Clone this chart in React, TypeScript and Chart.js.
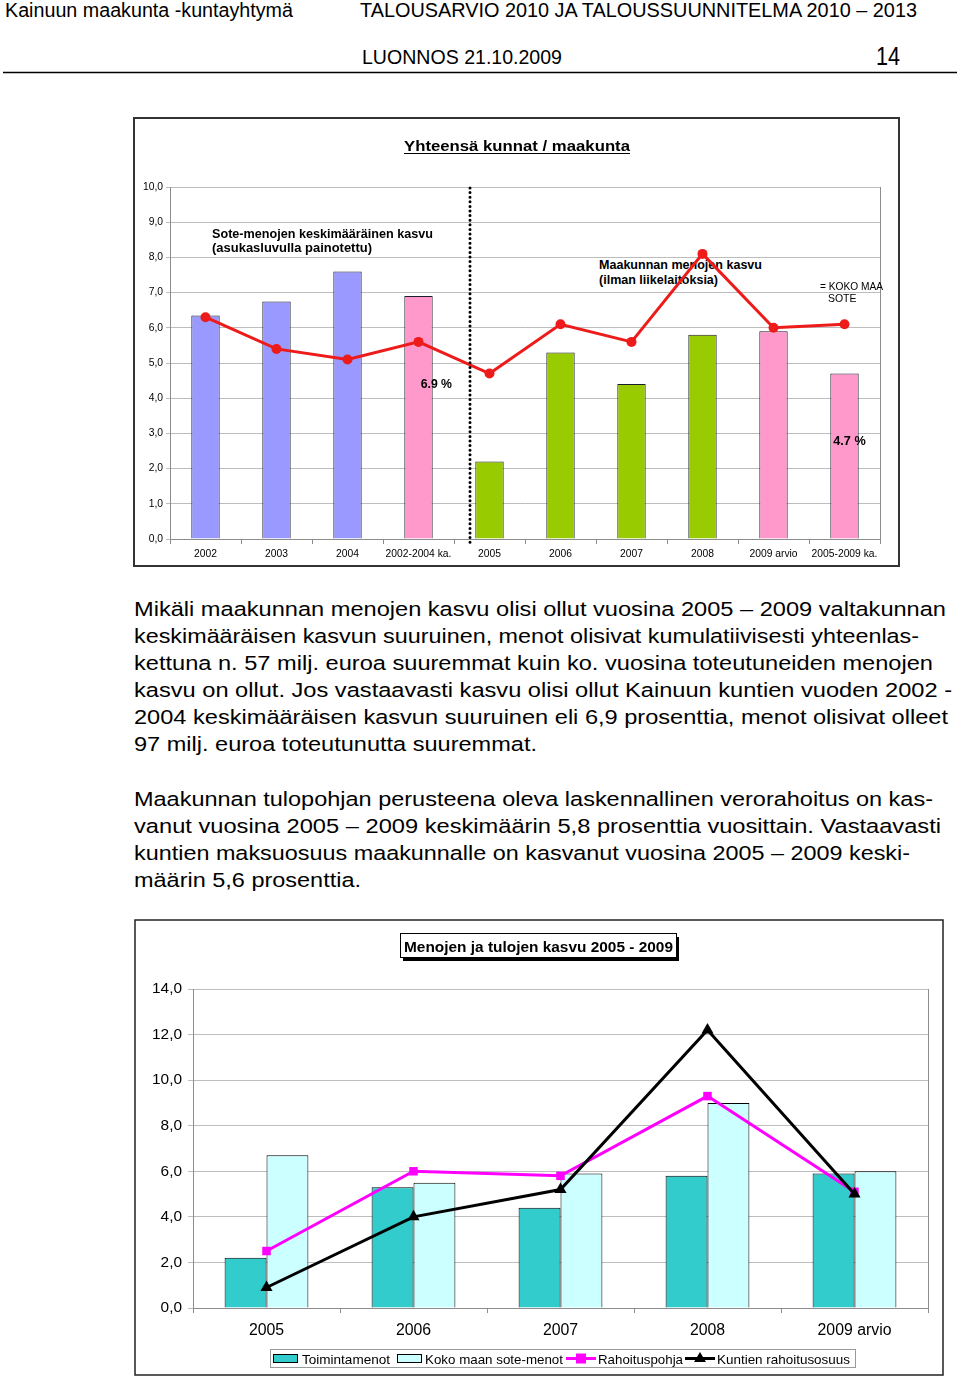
import React, { useEffect, useRef } from 'react';
import { Chart, registerables } from 'chart.js';

Chart.register(...registerables);

const SANS = "'Liberation Sans', Arial, Helvetica, sans-serif";
const NARROW = "'Liberation Sans Narrow', 'Arial Narrow', 'Liberation Sans', Arial, sans-serif";

// ---------- Chart 1: Yhteensä kunnat / maakunta ----------
const categories1 = ['2002', '2003', '2004', '2002-2004 ka.', '2005', '2006', '2007', '2008', '2009 arvio', '2005-2009 ka.'];
const soteGrowth = [6.35, 6.75, 7.6, 6.9, 2.2, 5.3, 4.4, 5.8, 5.9, 4.7];
const regionGrowth = [6.3, 5.4, 5.1, 5.6, 4.7, 6.1, 5.6, 8.1, 6.0, 6.1];
const barColors1 = ['#9999FF', '#9999FF', '#9999FF', '#FF99CC', '#99CC00', '#99CC00', '#99CC00', '#99CC00', '#FF99CC', '#FF99CC'];
const yMin1 = 0;
const yMax1 = 10;
const yStep1 = 1;

// ---------- Chart 2: Menojen ja tulojen kasvu 2005 - 2009 ----------
const categories2 = ['2005', '2006', '2007', '2008', '2009 arvio'];
const toimintamenot = [2.2, 5.3, 4.4, 5.8, 5.9];
const kokoMaanSote = [6.7, 5.5, 5.9, 9.0, 6.0];
const rahoituspohja = [2.5, 6.0, 5.8, 9.3, 5.1];
const kuntienOsuus = [0.9, 4.0, 5.2, 12.2, 5.0];
const seriesNames2 = ['Toimintamenot', 'Koko maan sote-menot', 'Rahoituspohja', 'Kuntien rahoitusosuus'];
const yMin2 = 0;
const yMax2 = 14;
const yStep2 = 2;

// ---------- Page texts ----------
const headerLeft = 'Kainuun maakunta -kuntayhtymä';
const headerRight = 'TALOUSARVIO 2010 JA TALOUSSUUNNITELMA 2010 – 2013';
const headerDraft = 'LUONNOS 21.10.2009';
const pageNumber = '14';
const title1 = 'Yhteensä kunnat / maakunta';
const title2 = 'Menojen ja tulojen kasvu 2005 - 2009';

const paragraph1 = [
  { t: 'Mikäli maakunnan menojen kasvu olisi ollut vuosina 2005 – 2009 valtakunnan', end: 946 },
  { t: 'keskimääräisen kasvun suuruinen, menot olisivat kumulatiivisesti yhteenlas-', end: 919 },
  { t: 'kettuna n. 57 milj. euroa suuremmat kuin ko. vuosina toteutuneiden menojen', end: 933 },
  { t: 'kasvu on ollut. Jos vastaavasti kasvu olisi ollut Kainuun kuntien vuoden 2002 -', end: 952 },
  { t: '2004 keskimääräisen kasvun suuruinen eli 6,9 prosenttia, menot olisivat olleet', end: 948 },
  { t: '97 milj. euroa toteutunutta suuremmat.', end: 537 },
];
const paragraph2 = [
  { t: 'Maakunnan tulopohjan perusteena oleva laskennallinen verorahoitus on kas-', end: 933 },
  { t: 'vanut vuosina 2005 – 2009 keskimäärin 5,8 prosenttia vuosittain. Vastaavasti', end: 941 },
  { t: 'kuntien maksuosuus maakunnalle on kasvanut vuosina 2005 – 2009 keski-', end: 910 },
  { t: 'määrin 5,6 prosenttia.', end: 361 },
];

const fmt = (v: number | string) => Number(v).toFixed(1).replace('.', ',');

function fitSize(text: string, target: number, family: string, weight = 'normal', cap = 100) {
  const ctx = document.createElement('canvas').getContext('2d');
  if (!ctx) return 12;
  ctx.font = `${weight} 100px ${family}`;
  const w = ctx.measureText(text).width;
  return Math.min(cap, (100 * target) / w);
}

function rightFramePlugin(id: string) {
  return {
    id,
    beforeDatasetsDraw(chart: any) {
      const { ctx, chartArea: a } = chart;
      ctx.save();
      ctx.strokeStyle = '#8C8C8C';
      ctx.lineWidth = 1;
      const x = Math.round(a.right) + 0.5;
      ctx.beginPath();
      ctx.moveTo(x, a.top);
      ctx.lineTo(x, a.bottom);
      ctx.stroke();
      ctx.restore();
    },
  };
}

function GrowthChart() {
  const ref = useRef<HTMLCanvasElement>(null);
  useEffect(() => {
    if (!ref.current) return;
    const tickFont = { family: SANS, size: 10.3 };
    const dividerPlugin = {
      id: 'divider1',
      afterDatasetsDraw(chart: any) {
        const { ctx, chartArea: a, scales } = chart;
        const xs = scales.x;
        const p3 = xs.getPixelForValue(3);
        const p4 = xs.getPixelForValue(4);
        const x = Math.round(p3 + (p4 - p3) * 0.73);
        ctx.save();
        ctx.strokeStyle = '#000';
        ctx.lineWidth = 3;
        ctx.lineCap = 'round';
        ctx.setLineDash([0, 4.6]);
        ctx.beginPath();
        ctx.moveTo(x, a.top + 1);
        ctx.lineTo(x, a.bottom + 5);
        ctx.stroke();
        ctx.restore();
      },
    };
    const chart = new Chart(ref.current, {
      type: 'bar',
      data: {
        labels: categories1,
        datasets: [
          {
            type: 'line',
            data: regionGrowth,
            borderColor: '#EE1B1B',
            backgroundColor: '#EE1B1B',
            borderWidth: 3,
            pointRadius: 5,
            pointBorderWidth: 0,
            pointBackgroundColor: '#EE1B1B',
            tension: 0,
            order: 0,
          } as any,
          {
            type: 'bar',
            data: soteGrowth,
            backgroundColor: barColors1,
            borderColor: '#1C1C2C',
            borderWidth: 1,
            barPercentage: 0.4,
            categoryPercentage: 1,
            order: 1,
          },
        ],
      },
      options: {
        responsive: false,
        animation: false,
        layout: { padding: { top: 69, right: 19, left: 0, bottom: 0 } },
        plugins: { legend: { display: false }, tooltip: { enabled: false }, title: { display: false } },
        scales: {
          x: {
            offset: true,
            grid: { offset: true, drawOnChartArea: false, drawTicks: true, tickLength: 5, color: '#8C8C8C' },
            border: { color: '#8C8C8C' },
            ticks: { font: tickFont, color: '#000', padding: 4, maxRotation: 0, autoSkip: false },
            afterFit: (s: any) => { s.height = 28; },
          },
          y: {
            min: yMin1,
            max: yMax1,
            ticks: { stepSize: yStep1, callback: (v: any) => fmt(v), font: tickFont, color: '#000', padding: 3 },
            grid: { color: '#BDBDBD', tickLength: 4, drawTicks: true },
            border: { color: '#8C8C8C' },
            afterFit: (s: any) => { s.width = 35; },
          },
        },
      },
      plugins: [rightFramePlugin('frame1'), dividerPlugin],
    });
    return () => chart.destroy();
  }, []);
  return (
    <canvas
      ref={ref}
      width={764}
      height={449}
      style={{ position: 'absolute', left: 135, top: 118, width: 764, height: 449 }}
    />
  );
}

function FundingChart() {
  const ref = useRef<HTMLCanvasElement>(null);
  useEffect(() => {
    if (!ref.current) return;
    const xSize = fitSize('2009 arvio', 74, NARROW, 'normal', 18);
    const ySize = fitSize('14,0', 30, NARROW, 'normal', 18);
    const chart = new Chart(ref.current, {
      type: 'bar',
      data: {
        labels: categories2,
        datasets: [
          {
            type: 'line',
            label: seriesNames2[2],
            data: rahoituspohja,
            borderColor: '#FF00FF',
            backgroundColor: '#FF00FF',
            borderWidth: 3,
            pointStyle: 'rect',
            pointRadius: 6,
            pointBorderWidth: 0,
            pointBackgroundColor: '#FF00FF',
            tension: 0,
            order: 1,
          } as any,
          {
            type: 'line',
            label: seriesNames2[3],
            data: kuntienOsuus,
            borderColor: '#000',
            backgroundColor: '#000',
            borderWidth: 3,
            pointStyle: 'triangle',
            pointRadius: 7,
            pointBorderWidth: 0,
            pointBackgroundColor: '#000',
            tension: 0,
            order: 0,
          } as any,
          {
            type: 'bar',
            label: seriesNames2[0],
            data: toimintamenot,
            backgroundColor: '#33CCCC',
            borderColor: '#000',
            borderWidth: 1,
            barPercentage: 1,
            categoryPercentage: 0.57,
            order: 2,
          },
          {
            type: 'bar',
            label: seriesNames2[1],
            data: kokoMaanSote,
            backgroundColor: '#CCFFFF',
            borderColor: '#000',
            borderWidth: 1,
            barPercentage: 1,
            categoryPercentage: 0.57,
            order: 2,
          },
        ],
      },
      options: {
        responsive: false,
        animation: false,
        layout: { padding: { top: 69, right: 15, left: 0, bottom: 0 } },
        plugins: { legend: { display: false }, tooltip: { enabled: false }, title: { display: false } },
        scales: {
          x: {
            offset: true,
            grid: { offset: true, drawOnChartArea: false, drawTicks: true, tickLength: 5, color: '#8C8C8C' },
            border: { color: '#8C8C8C' },
            ticks: { font: { family: NARROW, size: xSize }, color: '#000', padding: 16 - xSize / 2, maxRotation: 0, autoSkip: false },
            afterFit: (s: any) => { s.height = 67; },
          },
          y: {
            min: yMin2,
            max: yMax2,
            ticks: { stepSize: yStep2, callback: (v: any) => fmt(v), font: { family: NARROW, size: ySize }, color: '#000', padding: 6 },
            grid: { color: '#BDBDBD', tickLength: 5, drawTicks: true },
            border: { color: '#8C8C8C' },
            afterFit: (s: any) => { s.width = 58; },
          },
        },
      },
      plugins: [rightFramePlugin('frame2')],
    });
    return () => chart.destroy();
  }, []);
  return (
    <canvas
      ref={ref}
      width={808}
      height={455}
      style={{ position: 'absolute', left: 135, top: 920, width: 808, height: 455 }}
    />
  );
}

function T(props: { x: number; y: number; len: number; size: number; text: string; bold?: boolean; family?: string; anchor?: string }) {
  return (
    <text
      x={props.x}
      y={props.y}
      textLength={props.len}
      lengthAdjust="spacingAndGlyphs"
      fontSize={props.size}
      fontWeight={props.bold ? 'bold' : 'normal'}
      fontFamily={props.family || SANS}
      textAnchor={props.anchor || 'start'}
      fill="#000"
    >
      {props.text}
    </text>
  );
}

export default function App() {
  const full = { position: 'absolute' as const, left: 0, top: 0, width: 960, height: 1376 };
  return (
    <div style={{ ...full, background: '#fff', overflow: 'hidden' }}>
      {/* layer under the charts */}
      <svg width={960} height={1376} style={{ ...full }}>
        <T x={5} y={17} len={288} size={19.5} text={headerLeft} family={NARROW} />
        <T x={360} y={17} len={557} size={19.5} text={headerRight} family={NARROW} />
        <T x={362} y={64} len={200} size={19.5} text={headerDraft} family={NARROW} />
        <T x={876} y={65} len={24} size={25} text={pageNumber} family={NARROW} />
        <line x1={3} y1={72.5} x2={957} y2={72.5} stroke="#000" strokeWidth={1.3} />

        <rect x={134} y={118} width={765} height={448} fill="none" stroke="#333" strokeWidth={2} />
        <T x={599} y={268.5} len={163} size={12.5} bold text="Maakunnan menojen kasvu" />
        <T x={599} y={283.5} len={119} size={12.5} bold text="(ilman liikelaitoksia)" />

        {paragraph1.map((l, i) => (
          <T key={'p1' + i} x={134} y={615.5 + i * 27} len={l.end - 134} size={20.5} text={l.t} />
        ))}
        {paragraph2.map((l, i) => (
          <T key={'p2' + i} x={134} y={805.5 + i * 27} len={l.end - 134} size={20.5} text={l.t} />
        ))}

        <rect x={135} y={920} width={808} height={455} fill="none" stroke="#222" strokeWidth={1.5} />
      </svg>

      <GrowthChart />
      <FundingChart />

      {/* layer above the charts */}
      <svg width={960} height={1376} style={{ ...full, pointerEvents: 'none' }}>
        <T x={404} y={151} len={226} size={15} bold text={title1} />
        <line x1={404} y1={153.5} x2={630} y2={153.5} stroke="#000" strokeWidth={1.2} />
        <T x={212} y={237.5} len={221} size={12.5} bold text="Sote-menojen keskimääräinen kasvu" />
        <T x={212} y={252} len={160} size={12.5} bold text="(asukasluvulla painotettu)" />
        <T x={820} y={289.5} len={63} size={10.5} text="= KOKO MAA" />
        <T x={828} y={301.5} len={28.5} size={10.5} text="SOTE" />
        <T x={420.7} y={387.5} len={31.3} size={12.5} bold text="6.9 %" />
        <T x={833.3} y={445} len={32.4} size={12.5} bold text="4.7 %" />

        {/* chart 2 title box */}
        <rect x={403} y={937} width={276} height={24} fill="#000" />
        <rect x={400.5} y={933.5} width={276} height={24} fill="#fff" stroke="#000" strokeWidth={1} />
        <T x={538.5} y={951.5} len={269} size={15} bold text={title2} anchor="middle" />

        {/* chart 2 legend */}
        <rect x={270.5} y={1349.5} width={585} height={18} fill="#fff" stroke="#9A9A9A" strokeWidth={1} />
        <rect x={273.5} y={1354.5} width={24} height={8} fill="#33CCCC" stroke="#000" strokeWidth={1} />
        <T x={302} y={1363.5} len={88} size={13} text={seriesNames2[0]} />
        <rect x={397.5} y={1354.5} width={24} height={8} fill="#CCFFFF" stroke="#000" strokeWidth={1} />
        <T x={425} y={1363.5} len={138} size={13} text={seriesNames2[1]} />
        <line x1={566} y1={1358.5} x2={596} y2={1358.5} stroke="#FF00FF" strokeWidth={3} />
        <rect x={576} y={1353.5} width={10} height={10} fill="#FF00FF" />
        <T x={598} y={1363.5} len={85} size={13} text={seriesNames2[2]} />
        <line x1={685} y1={1358.5} x2={715} y2={1358.5} stroke="#000" strokeWidth={3} />
        <polygon points="700,1352 706,1362 694,1362" fill="#000" />
        <T x={717} y={1363.5} len={133} size={13} text={seriesNames2[3]} />
      </svg>
    </div>
  );
}
